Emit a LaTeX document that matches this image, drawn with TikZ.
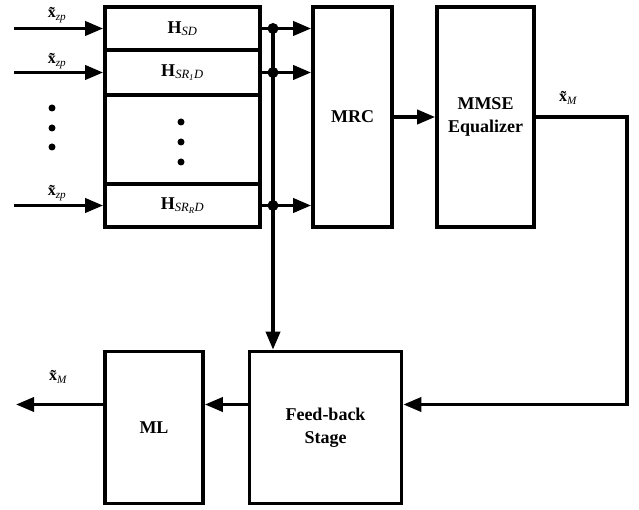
\documentclass[tikz,border=0pt]{standalone}
\usepackage{fontspec}
\setmainfont{Liberation Serif}
\usetikzlibrary{arrows.meta}
\newcommand{\xtl}[1]{{\bfseries\~{x}}\textsubscript{\mdseries\itshape #1}}
\newcommand{\sbi}[1]{\textsubscript{\mdseries\itshape #1}}
\begin{document}
\begin{tikzpicture}[x=1pt,y=-1pt,
 blk/.style={draw, line width=3.6pt, rectangle, inner sep=0pt, align=center, font=\fontsize{18}{22.5}\selectfont\bfseries},
 conn/.style={line width=3.6pt, -{Triangle[length=18pt,width=14pt]}},
 ln/.style={line width=3.6pt},
 jd/.style={circle, fill, inner sep=0pt, minimum size=11pt},
 sd/.style={circle, fill, inner sep=0pt, minimum size=7pt},
 lab/.style={font=\fontsize{16}{16}\selectfont, inner sep=0pt}]
\useasboundingbox (0,0) rectangle (639,510);

% left channel boxes
\node[blk, minimum width=155pt, minimum height=43pt] (hsd) at (182.5,28.5) {H\sbi{SD}};
\node[blk, minimum width=155pt, minimum height=45pt] (hsr1) at (182.5,72.5) {H\sbi{SR\textsubscript{1}D}};
\node[blk, minimum width=155pt, minimum height=89pt] (hdots) at (182.5,139.5) {};
\node[blk, minimum width=155pt, minimum height=43pt] (hsrr) at (182.5,205.5) {H\sbi{SR\textsubscript{R}D}};

% main blocks
\node[blk, minimum width=79pt, minimum height=220pt] (mrc) at (352.5,117) {MRC};
\node[blk, minimum width=97pt, minimum height=220pt] (mmse) at (485.5,117) {MMSE\\Equalizer};
\node[blk, minimum width=152pt, minimum height=152pt] (fb) at (325.5,427.5) {Feed-back\\Stage};
\node[blk, minimum width=98pt, minimum height=152pt] (ml) at (154,427.5) {\raisebox{-5pt}{ML}};

% vertical dots
\node[sd] (d1) at (181,122) {};
\node[sd] (d2) at (181,142) {};
\node[sd] (d3) at (181,162) {};
\node[sd] (e1) at (52,108) {};
\node[sd] (e2) at (52,128) {};
\node[sd] (e3) at (52,147) {};

% inputs
\coordinate (i1) at (14,28.5);
\coordinate (i2) at (14,72.5);
\coordinate (i3) at (14,205.5);
\draw[conn] (i1) -- (hsd.west);
\draw[conn] (i2) -- (hsr1.west);
\draw[conn] (i3) -- (hsrr.west);
\node[lab] (l1) at (57,15) {\xtl{zp}};
\node[lab] (l2) at (57,61) {\xtl{zp}};
\node[lab] (l3) at (57,193) {\xtl{zp}};

% junctions and bus
\coordinate (j1) at (273,28.5);
\coordinate (j2) at (273,72.5);
\coordinate (j3) at (273,205.5);
\draw[ln] (hsd.east) -- (j1);
\draw[ln] (hsr1.east) -- (j2);
\draw[ln] (hsrr.east) -- (j3);
\draw[conn] (j1) -- (mrc.west |- j1);
\draw[conn] (j2) -- (mrc.west |- j2);
\draw[conn] (j3) -- (mrc.west |- j3);
\draw[conn] (j1) -- (fb.north -| j1);
\node[jd] (k1) at (j1) {};
\node[jd] (k2) at (j2) {};
\node[jd] (k3) at (j3) {};

% chain
\draw[conn] (mrc.east) -- (mmse.west);
\coordinate (c1) at (627,117);
\coordinate (c2) at (627,404.5);
\draw[conn] (mmse.east) -- (c1) -- (c2) -- (fb.east |- c2);
\draw[conn] (fb.west |- c2) -- (ml.east |- c2);
\coordinate (o) at (16,404.5);
\draw[conn] (ml.west |- c2) -- (o);

\node[lab] (xm1) at (568,98) {\xtl{M}};
\node[lab] (xm2) at (58,377) {\xtl{M}};
\end{tikzpicture}
\end{document}
